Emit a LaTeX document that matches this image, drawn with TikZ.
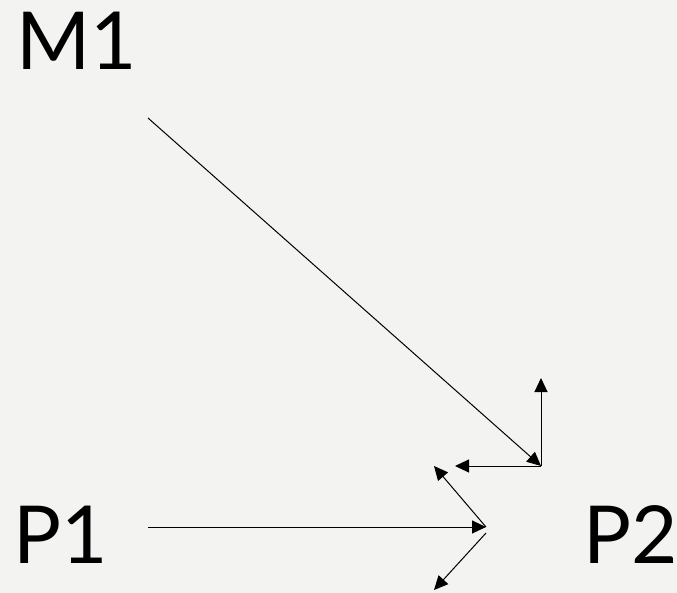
\documentclass[tikz,border=0pt]{standalone}
\usepackage{fontspec}
\setmainfont{Lato}
\usetikzlibrary{arrows.meta}
\definecolor{bg}{HTML}{F3F3F1}
\tikzset{
  lbl/.style={inner sep=0pt, anchor=base west, font=\fontsize{80}{80}\selectfont},
  conn/.style={line width=1pt, -{Triangle[length=14pt,width=13pt]}}
}
\begin{document}
\begin{tikzpicture}[x=1pt,y=-1pt]
\fill[bg] (0,0) rectangle (677,593);
\useasboundingbox (0,0) rectangle (677,593);
\node[lbl] (M1) at (16,70) {M1};
\node[lbl] (P1) at (13,563) {P1};
\node[lbl] (P2) at (583,563) {P2};
\coordinate (a) at (148,118);
\coordinate (b) at (541,466);
\coordinate (up) at (541,378);
\coordinate (left) at (455,466);
\coordinate (c) at (148,527);
\coordinate (d) at (486,527);
\coordinate (e) at (434,466);
\coordinate (f) at (486,533);
\coordinate (g) at (434,590);
\draw[conn] (a) -- (b);
\draw[conn] (b) -- (up);
\draw[conn] (b) -- (left);
\draw[conn] (c) -- (d);
\draw[conn] (d) -- (e);
\draw[conn] (f) -- (g);
\end{tikzpicture}
\end{document}
